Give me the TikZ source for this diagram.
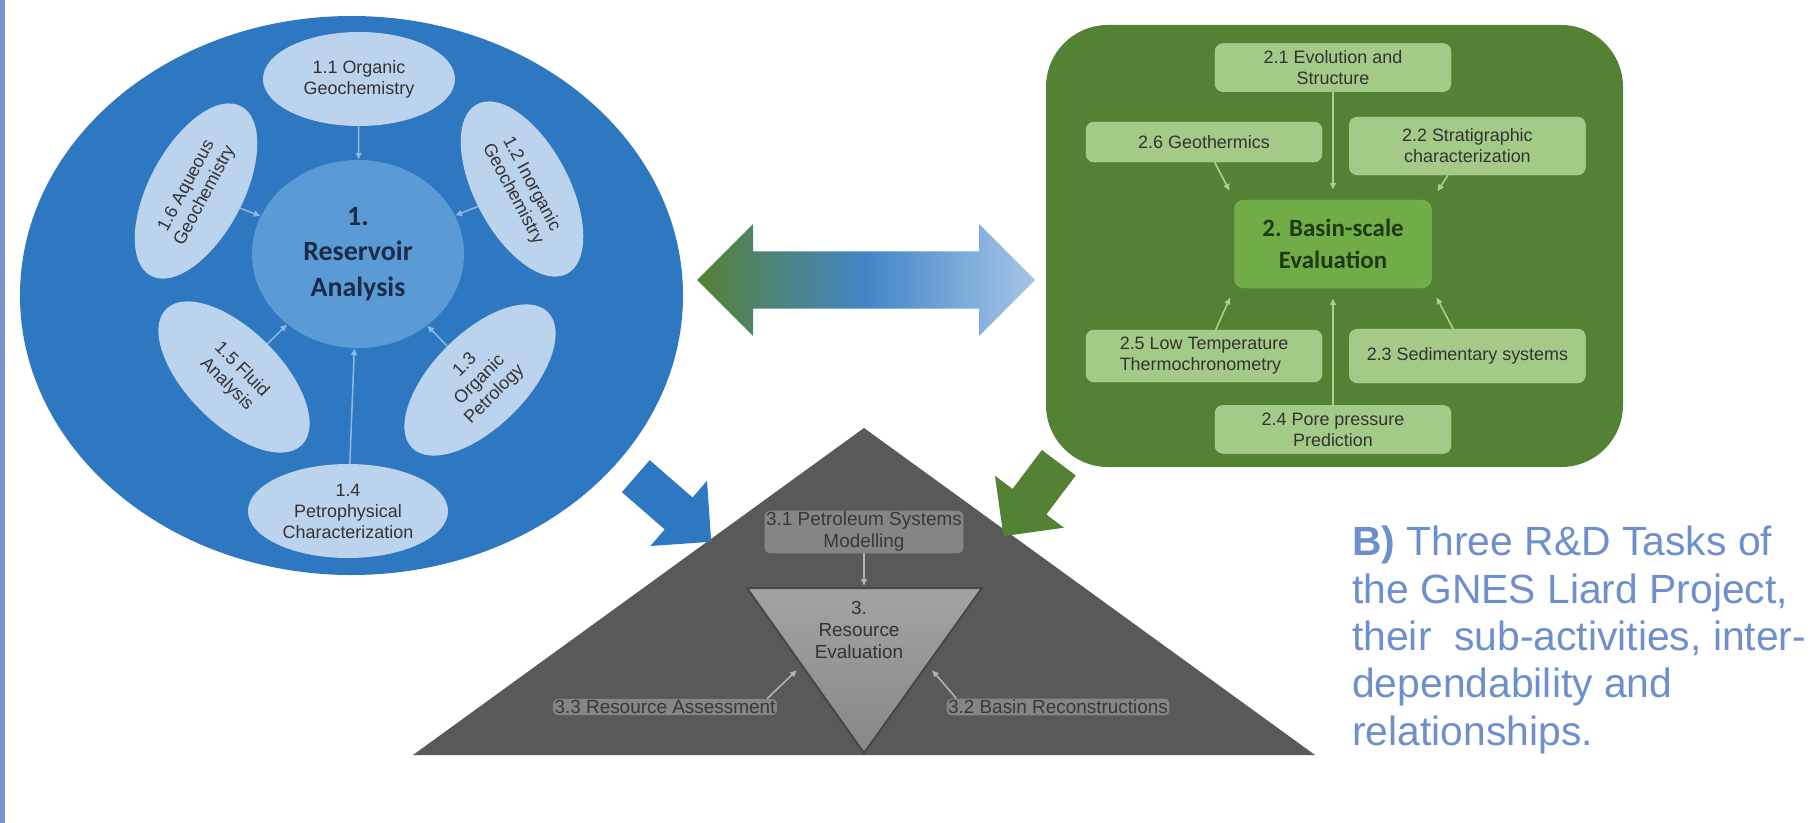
\documentclass[tikz,border=0pt]{standalone}
\usepackage{fontspec}
\setmainfont{Liberation Sans}
\newfontfamily\calibrifont{Carlito}
\usetikzlibrary{arrows.meta, calc, positioning, shapes.geometric, shapes.arrows}

\definecolor{capblue}{HTML}{6D8FCC}
\definecolor{barblue}{HTML}{7B96CF}
\definecolor{ringblue}{HTML}{2E78C2}
\definecolor{coreblue}{HTML}{5B9BD5}
\definecolor{paleblue}{HTML}{BCD3EE}
\definecolor{navytxt}{HTML}{1D2B47}
\definecolor{framegreen}{HTML}{548235}
\definecolor{coregreen}{HTML}{70AD47}
\definecolor{palegreen}{HTML}{A3CA86}
\definecolor{darkgreentxt}{HTML}{1F3A12}
\definecolor{trigray}{HTML}{595959}
\definecolor{subtxt}{HTML}{333333}

\begin{document}
\begin{tikzpicture}[
    x=1bp, y=-1bp,
    >={Latex[width=7bp, length=7bp]},
    subtext/.style={font=\fontsize{18}{21}\selectfont, text=subtxt, align=center},
    ring/.style   ={ellipse, fill=paleblue, inner sep=0pt, minimum width=192bp,
                    minimum height=94bp, subtext},
    gsub/.style   ={draw=palegreen!80!white, fill=palegreen, rounded corners=8bp,
                    inner sep=2bp, minimum width=236bp, minimum height=48bp, subtext},
    tlabel/.style ={fill=black!48, rounded corners=5bp, inner sep=1.5bp, align=center,
                    font=\fontsize{19}{22}\selectfont, text=black!78},
    block/.style  ={single arrow, single arrow head extend=22bp, inner xsep=0pt,
                    inner ysep=21bp, minimum height=100bp},
    rlink/.style  ={->, line width=1.5bp, draw=paleblue!70!ringblue},
    glink/.style  ={->, line width=1.6bp, draw=palegreen!90!white, shorten >=10bp},
    tlink/.style  ={->, line width=1.6bp, draw=black!30},
]
\fill[white] (0,0) rectangle (1814,823);
\useasboundingbox (0,0) rectangle (1814,823);
\fill[barblue] (0,0) rectangle (5,823);

% 1. reservoir analysis
\node[ellipse, fill=ringblue, minimum width=663bp, minimum height=559bp] (resring) at (351.5,295.5) {};
\node[ellipse, fill=coreblue, minimum width=212bp, minimum height=188bp, align=center,
      font=\calibrifont\bfseries\fontsize{28}{36}\selectfont, text=navytxt] (res) at (358,254)
      {1.\\Reservoir\\Analysis};
\node[ring] (orggeo) at (359,79) {1.1 Organic\\Geochemistry};
\node[ring, rotate=-62] (inorg) at (522,189) {1.2 Inorganic\\Geochemistry};
\node[ring, rotate=45] (orgpet) at (480,380) {1.3\\Organic\\Petrology};
\node[ring, minimum width=200bp] (petro) at (348,511) {1.4\\Petrophysical\\Characterization};
\node[ring, rotate=-45] (fluid) at (234,377) {1.5 Fluid\\Analysis};
\node[ring, rotate=62] (aqueous) at (196,191) {1.6 Aqueous\\Geochemistry};
\foreach \s in {orggeo, inorg, orgpet, petro, fluid, aqueous}
    \draw[rlink] (\s) -- (res);

% two-way link between tasks 1 and 2
\node[double arrow, double arrow head extend=27.5bp, double arrow head indent=0pt,
      minimum height=338bp, inner xsep=0pt, inner ysep=28.5bp,
      left color=framegreen, right color=paleblue!85!ringblue, middle color=ringblue!90]
      (link) at (866,280) {};

% 2. basin-scale evaluation
\node[fill=framegreen, rounded corners=62bp, minimum width=577bp, minimum height=442bp]
      (basinbox) at (1334.5,246) {};
\node[fill=coregreen, draw=coregreen!80!white, rounded corners=10bp, minimum width=197bp,
      minimum height=88bp, align=center, font=\calibrifont\bfseries\fontsize{25}{32}\selectfont,
      text=darkgreentxt] (basin) at (1333,244) {2. Basin-scale\\Evaluation};
\node[gsub, above=108bp of basin] (evol) {2.1 Evolution and\\Structure};
\node[gsub, minimum height=40bp] (geoth) at (1204,142) {2.6 Geothermics};
\node[gsub, minimum height=58bp, right=27bp of geoth, yshift=-4bp] (strat) {2.2 Stratigraphic\\characterization};
\node[gsub, minimum height=52bp, align=left] (lowtemp) at (1204,356) {2.5 Low Temperature\\Thermochronometry};
\node[gsub, minimum height=54bp, right=27bp of lowtemp] (sedsys) {2.3 Sedimentary systems};
\node[gsub, below=117bp of basin] (pore) {2.4 Pore pressure\\Prediction};
\draw[glink] (evol) -- (basin.north);
\draw[glink] (geoth) -- (basin.north west);
\draw[glink] (strat) -- (basin.north east);
\draw[glink] (lowtemp) -- (basin.south west);
\draw[glink] (sedsys) -- (basin.south east);
\draw[glink] (pore) -- (basin.south);

% 3. resource evaluation
\coordinate (apex) at (864,428);
\fill[trigray] (apex) -- (1315,755) -- (413,755) -- cycle;
\draw[black!72, line width=2bp, top color=black!36, bottom color=black!47]
    (747,588) -- (982,588) -- (864,753) -- cycle;
\node[tlabel] (petsys) at (864,532) {3.1 Petroleum Systems\\Modelling};
\node[font=\fontsize{19}{22}\selectfont, text=black!80, align=center] (reseval) at (859,630)
    {3.\\Resource\\Evaluation};
\node[tlabel] (assess) at (665,707) {3.3 Resource Assessment};
\node[tlabel] (recon) at (1058,707) {3.2 Basin Reconstructions};
\coordinate (itop) at (864,586);
\coordinate (ileft) at (797,670);
\coordinate (iright) at (932,670);
\draw[tlink] (petsys) -- (itop);
\draw[tlink] ([xshift=-10bp]assess.north east) -- (ileft);
\draw[tlink] ([xshift=10bp]recon.north west) -- (iright);

% tasks 1 and 2 feed task 3
\node[block, fill=ringblue, rotate=-41] (resarrow) at (665.5,502) {};
\node[block, fill=framegreen, rotate=-127, minimum height=92bp] (basarrow) at (1037.5,491) {};

% caption
\node[anchor=base west, align=left, inner sep=0pt, text=capblue,
      font=\fontsize{41}{47.5}\selectfont] (caption) at (1352,745)
    {\textbf{B)} Three R\&D Tasks of\\the GNES Liard Project,\\their\ \ sub-activities, inter-\\dependability and\\relationships.};
\end{tikzpicture}
\end{document}
